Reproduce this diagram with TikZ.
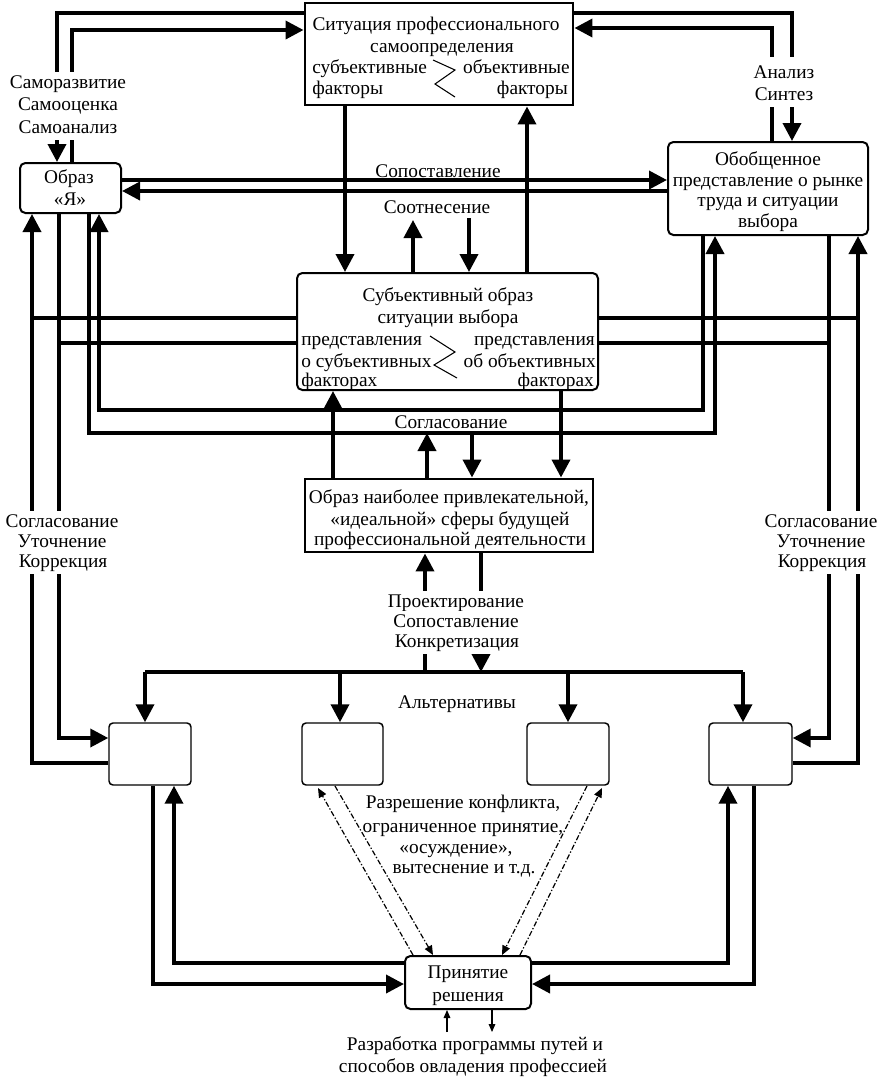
\documentclass[tikz,border=0pt]{standalone}
\usepackage{fontspec}
\setmainfont{Liberation Serif}
\usetikzlibrary{arrows.meta,fit}
\begin{document}
\begin{tikzpicture}[x=0.75pt,y=-0.75pt,
  tx/.style={font=\fontsize{14.5}{16.5}\selectfont, inner sep=0pt},
  lbl/.style={tx, fill=white, inner xsep=2pt, inner ysep=1.5pt, text height=10.5pt, text depth=3.5pt},
  sbox/.style={draw, line width=2.2pt, inner sep=0pt},
  rbox/.style={draw, line width=1.5pt, rounded corners=4pt, inner sep=0pt},
  abox/.style={draw, line width=1.1pt, rounded corners=3pt, inner sep=0pt},
  ln/.style={line width=2.3pt},
  ar/.style={line width=2.8pt, -{Triangle[width=13.5pt,length=13.5pt]}},
  dd/.style={line width=0.9pt, dash pattern=on 4pt off 1.5pt on 1pt off 1.5pt, -{Triangle[width=6pt,length=7pt]}},
  thn/.style={line width=0.8pt, -{Triangle[width=5pt,length=6pt]}},
  zig/.style={line width=0.8pt},
]
\useasboundingbox (0,0) rectangle (896,1086);

% boxes
\node[sbox, fit={(305,3) (573,105)}] (sit) {};
\node[rbox, fit={(20,163) (121,213)}] (ja) {};
\node[rbox, fit={(668,142) (868,235)}] (gen) {};
\node[rbox, fit={(297,273) (598,390)}] (subj) {};
\node[sbox, fit={(305,479) (593,552)}] (ideal) {};
\node[abox, fit={(109,723) (191,785)}] (a1) {};
\node[abox, fit={(302,723) (383,785)}] (a2) {};
\node[abox, fit={(527,723) (609,785)}] (a3) {};
\node[abox, fit={(709,723) (792,785)}] (a4) {};
\node[rbox, fit={(405,956) (531,1009)}] (dec) {};

% connectors top
\draw[ar] (sit.west |- 0,13) -| (57,0 |- ja.north);
\draw[ar] (72,0 |- ja.north) |- (sit.west |- 0,30);
\draw[ar] (sit.east |- 0,13) -| (792,0 |- gen.north);
\draw[ar] (772,0 |- gen.north) |- (sit.east |- 0,28);
\draw[ar] (ja.east |- 0,180) -- (gen.west |- 0,180);
\draw[ar] (gen.west |- 0,191) -- (ja.east |- 0,191);
\draw[ar] (345,0 |- sit.south) -- (345,0 |- subj.north);
\draw[ar] (527,0 |- subj.north) -- (527,0 |- sit.south);
\draw[ar] (413,0 |- subj.north) -- (413,220);
\draw[ar] (469,218) -- (469,0 |- subj.north);

% side connectors
\draw[ar] (a1.west |- 0,763) -| (32,0 |- ja.south);
\draw[ln] (subj.west |- 0,318) -- (32,318);
\draw[ar] (59,0 |- ja.south) |- (a1.west |- 0,738);
\draw[ln] (59,343) -- (subj.west |- 0,343);
\draw[ar] (703,0 |- gen.south) |- (99,410) -- (99,0 |- ja.south);
\draw[ar] (89,0 |- ja.south) |- (715,433) -- (715,0 |- gen.south);
\draw[ar] (829,0 |- gen.south) |- (a4.east |- 0,738);
\draw[ln] (subj.east |- 0,343) -- (829,343);
\draw[ar] (a4.east |- 0,763) -| (858,0 |- gen.south);
\draw[ln] (subj.east |- 0,318) -- (858,318);

% middle
\draw[ar] (333,0 |- ideal.north) -- (333,0 |- subj.south);
\draw[ar] (427,0 |- ideal.north) -- (427,433);
\draw[ar] (472,433) -- (472,0 |- ideal.north);
\draw[ar] (561,0 |- subj.south) -- (561,0 |- ideal.north);
\draw[ar] (481,0 |- ideal.south) -- (481,672);
\draw[ar] (425,672) -- (425,0 |- ideal.south);

% bus
\draw[ln] (145,672) -- (743,672);
\draw[ar] (145,672) -- (145,0 |- a1.north);
\draw[ar] (340,672) -- (340,0 |- a2.north);
\draw[ar] (568,672) -- (568,0 |- a3.north);
\draw[ar] (743,672) -- (743,0 |- a4.north);

% bottom
\draw[ar] (153,0 |- a1.south) |- (dec.west |- 0,984);
\draw[ar] (dec.west |- 0,963) -| (174,0 |- a1.south);
\draw[ar] (dec.east |- 0,963) -| (728,0 |- a4.south);
\draw[ar] (754,0 |- a4.south) |- (dec.east |- 0,984);
\draw[dd] (335,786) -- (433,955);
\draw[dd] (413,955) -- (318,788);
\draw[dd] (587,786) -- (502,955);
\draw[dd] (520,955) -- (602,788);
\draw[thn] (447,1032) -- (447,0 |- dec.south);
\draw[thn] (492,0 |- dec.south) -- (492,1032);

% zigzags
\draw[zig] (433,60) -- (455,70) -- (435,84) -- (455,97);
\draw[zig] (430,336) -- (455,352) -- (434,365) -- (457,378);

% box texts
\node[tx,anchor=base] (sit1) at (436,30) {Ситуация профессионального};
\node[tx,anchor=base] (sit2) at (442,52) {самоопределения};
\node[tx,anchor=base west] (sit3) at (312,73) {субъективные};
\node[tx,anchor=base west] (sit4) at (312,94) {факторы};
\node[tx,anchor=base east] (sit5) at (570,73) {объективные};
\node[tx,anchor=base east] (sit6) at (568,94) {факторы};

\node[tx,anchor=base] (ja1) at (69,183) {Образ};
\node[tx,anchor=base] (ja2) at (70,205) {«Я»};

\node[tx,anchor=base] (gen1) at (768,165) {Обобщенное};
\node[tx,anchor=base] (gen2) at (768,186) {представление о рынке};
\node[tx,anchor=base] (gen3) at (768,206) {труда и ситуации};
\node[tx,anchor=base] (gen4) at (768,227) {выбора};

\node[tx,anchor=base] (sub1) at (448,301) {Субъективный образ};
\node[tx,anchor=base] (sub2) at (448,323) {ситуации выбора};
\node[tx,anchor=base west] (sub3) at (301,345) {представления};
\node[tx,anchor=base west] (sub4) at (301,367) {о субъективных};
\node[tx,anchor=base west] (sub5) at (301,386) {факторах};
\node[tx,anchor=base east] (sub6) at (595,345) {представления};
\node[tx,anchor=base east] (sub7) at (596,367) {об объективных};
\node[tx,anchor=base east] (sub8) at (594,386) {факторах};

\node[tx,anchor=base] (id1) at (449,503) {Образ наиболее привлекательной,};
\node[tx,anchor=base] (id2) at (450,525) {«идеальной» сферы будущей};
\node[tx,anchor=base] (id3) at (450,545) {профессиональной деятельности};

\node[tx,anchor=base] (dec1) at (468,978) {Принятие};
\node[tx,anchor=base] (dec2) at (468,1001) {решения};

% labels over lines
\node[lbl,anchor=base] (la1) at (68,88) {Саморазвитие};
\node[lbl,anchor=base] (la2) at (68,110.5) {Самооценка};
\node[lbl,anchor=base] (la3) at (68,133) {Самоанализ};
\node[lbl,anchor=base,text height=14pt] (an1) at (784,78) {Анализ};
\node[lbl,anchor=base] (an2) at (784,100) {Синтез};
\node[lbl,anchor=base] (sl1) at (62,527) {Согласование};
\node[lbl,anchor=base] (sl2) at (62,547) {Уточнение};
\node[lbl,anchor=base] (sl3) at (63,567) {Коррекция};
\node[lbl,anchor=base] (sr1) at (821,527) {Согласование};
\node[lbl,anchor=base] (sr2) at (821,547) {Уточнение};
\node[lbl,anchor=base] (sr3) at (822,567) {Коррекция};
\node[lbl,anchor=base] (pr1) at (456,607) {Проектирование};
\node[lbl,anchor=base] (pr2) at (456,627) {Сопоставление};
\node[lbl,anchor=base] (pr3) at (457,647) {Конкретизация};

% free labels
\node[tx,anchor=base] (sop) at (438,177) {Сопоставление};
\node[tx,anchor=base] (soo) at (437,213) {Соотнесение};
\node[tx,anchor=base] (sog) at (451,428) {Согласование};
\node[tx,anchor=base] (alt) at (457,708) {Альтернативы};
\node[tx,anchor=base] (rz1) at (463,808) {Разрешение конфликта,};
\node[tx,anchor=base] (rz2) at (463,832) {ограниченное принятие,};
\node[tx,anchor=base] (rz3) at (456,853) {«осуждение»,};
\node[tx,anchor=base] (rz4) at (464,873) {вытеснение и т.д.};
\node[tx,anchor=base] (rp1) at (475,1050) {Разработка программы путей и};
\node[tx,anchor=base] (rp2) at (473,1072) {способов овладения профессией};
\end{tikzpicture}
\end{document}
